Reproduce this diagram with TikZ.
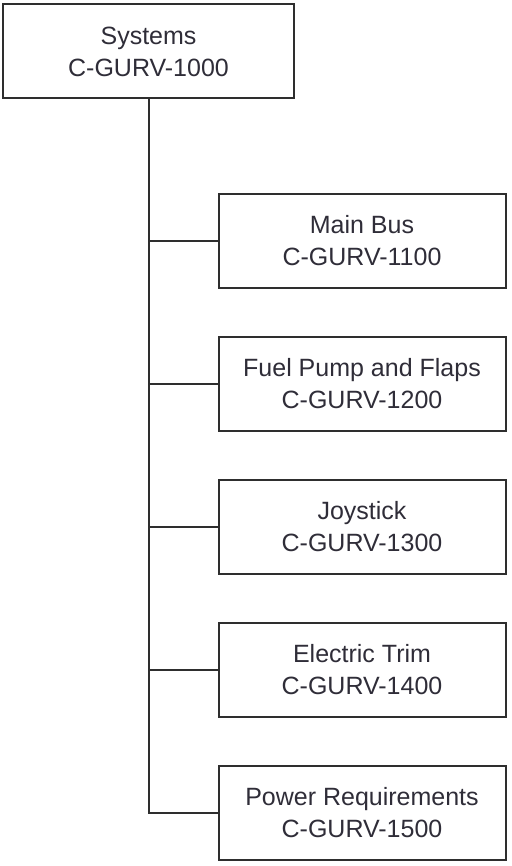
\documentclass[tikz,border=0pt]{standalone}
\usepackage{fontspec}
\setmainfont{Liberation Sans}
\usepackage{tikz}
\usetikzlibrary{positioning}
\definecolor{boxline}{HTML}{2E2E2E}
\definecolor{boxtext}{HTML}{2F2D38}

\begin{document}
\begin{tikzpicture}[x=1pt,y=1pt,node distance=47pt]
\tikzstyle{S}=[draw=boxline,line width=2pt,minimum width=287pt,minimum height=94pt,inner sep=0pt,align=center,text=boxtext,font=\fontsize{25}{32}\selectfont]
\useasboundingbox (0,0) rectangle (511,-866);
\node[S,minimum width=291pt] (sys) at (148.5,-51.5) {Systems\\C-GURV-1000};
\node[S] (c1) at (362,-241) {Main Bus\\C-GURV-1100};
\node[S,below=of c1] (c2) {Fuel Pump and Flaps\\C-GURV-1200};
\node[S,below=of c2] (c3) {Joystick\\C-GURV-1300};
\node[S,below=of c3] (c4) {Electric Trim\\C-GURV-1400};
\node[S,below=of c4] (c5) {Power Requirements\\C-GURV-1500};
\draw[boxline,line width=2pt] (sys.south) |- (c1.west); \draw[boxline,line width=2pt] (sys.south) |- (c2.west);
\draw[boxline,line width=2pt] (sys.south) |- (c3.west); \draw[boxline,line width=2pt] (sys.south) |- (c4.west);
\draw[boxline,line width=2pt] (sys.south) |- (c5.west);
\end{tikzpicture}
\end{document}
